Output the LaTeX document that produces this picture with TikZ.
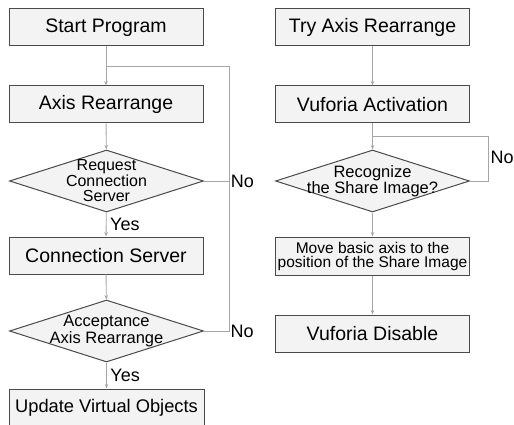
\documentclass[tikz,border=0pt]{standalone}
\usepackage{fontspec}
\setmainfont{Liberation Sans}
\usetikzlibrary{shapes.geometric,arrows.meta}
\definecolor{boxfill}{HTML}{F3F3F3}
\definecolor{boxline}{HTML}{4A4A4A}
\definecolor{flowline}{HTML}{A6A6A6}

\tikzset{
  stepbox/.style={draw=boxline, fill=boxfill, line width=1pt,
    minimum width=194pt, minimum height=37pt, inner sep=0pt,
    font=\fontsize{19.5}{22}\selectfont},
  smallbox/.style={stepbox, align=center,
    font=\fontsize{15.5}{14}\selectfont},
  decision/.style={diamond, draw=boxline, fill=boxfill, line width=1pt,
    minimum width=194pt, minimum height=62pt, inner sep=0pt},
  inside/.style={align=center, font=\fontsize{16.5}{16.5}\selectfont},
  flow/.style={draw=flowline, line width=0.9pt,
    -{Stealth[length=4.5pt,width=3.5pt]}},
  loop/.style={draw=flowline, line width=0.9pt},
  answer/.style={font=\fontsize{18}{20}\selectfont, inner sep=1.5pt}
}

\begin{document}
\begin{tikzpicture}[x=1pt,y=-1pt]
  \useasboundingbox (0,0) rectangle (514,425);

  % left column
  \node[stepbox] (start) at (106,27.5) {Start Program};
  \node[stepbox] (axis) at (106,104.5) {Axis Rearrange};
  \node[decision, label={[inside, font=\fontsize{16}{15.5}\selectfont]center:Request\\Connection\\Server}] (request) at (106.5,181) {};
  \node[stepbox] (server) at (106,255.5) {Connection Server};
  \node[decision, label={[inside]center:Acceptance\\Axis Rearrange}] (accept) at (106.5,331) {};
  \node[stepbox, minimum width=195pt, font=\fontsize{18.3}{22}\selectfont] (update) at (106.5,407.5) {Update Virtual Objects};

  \coordinate (back) at (107,66);
  \coordinate (backr) at (229,66);

  \draw[flow] (start) -- (axis);
  \draw[flow] (axis) -- (request);
  \draw[flow] (request) -- node[answer, right, xshift=2pt] {Yes} (server);
  \draw[flow] (server) -- (accept);
  \draw[flow] (accept) -- node[answer, right, xshift=2pt] {Yes} (update);
  \draw[loop] (request.east) -- (request.east -| backr) node[answer, right] {No};
  \draw[loop] (accept.east) -| (backr) -- (back);
  \node[answer, right] at (accept.east -| backr) {No};

  % right column
  \node[stepbox] (try) at (372.5,27.5) {Try Axis Rearrange};
  \node[stepbox] (vuforia) at (372.5,104.5) {Vuforia Activation};
  \node[decision, label={[inside]center:Recognize\\the Share Image?}] (recognize) at (372.5,181) {};
  \node[smallbox, minimum height=38pt] (move) at (372.5,256) {Move basic axis to the\\position of the Share Image};
  \node[stepbox] (disable) at (372.5,333.5) {Vuforia Disable};

  \coordinate (again) at (373,136);
  \coordinate (againr) at (488,136);

  \draw[flow] (try) -- (vuforia);
  \draw[flow] (vuforia) -- (recognize);
  \draw[loop] (recognize.east) -| (againr) -- (again);
  \node[answer, right] at (489,157) {No};
  \draw[flow] (recognize) -- (move);
  \draw[flow] (move) -- (disable);
\end{tikzpicture}
\end{document}
